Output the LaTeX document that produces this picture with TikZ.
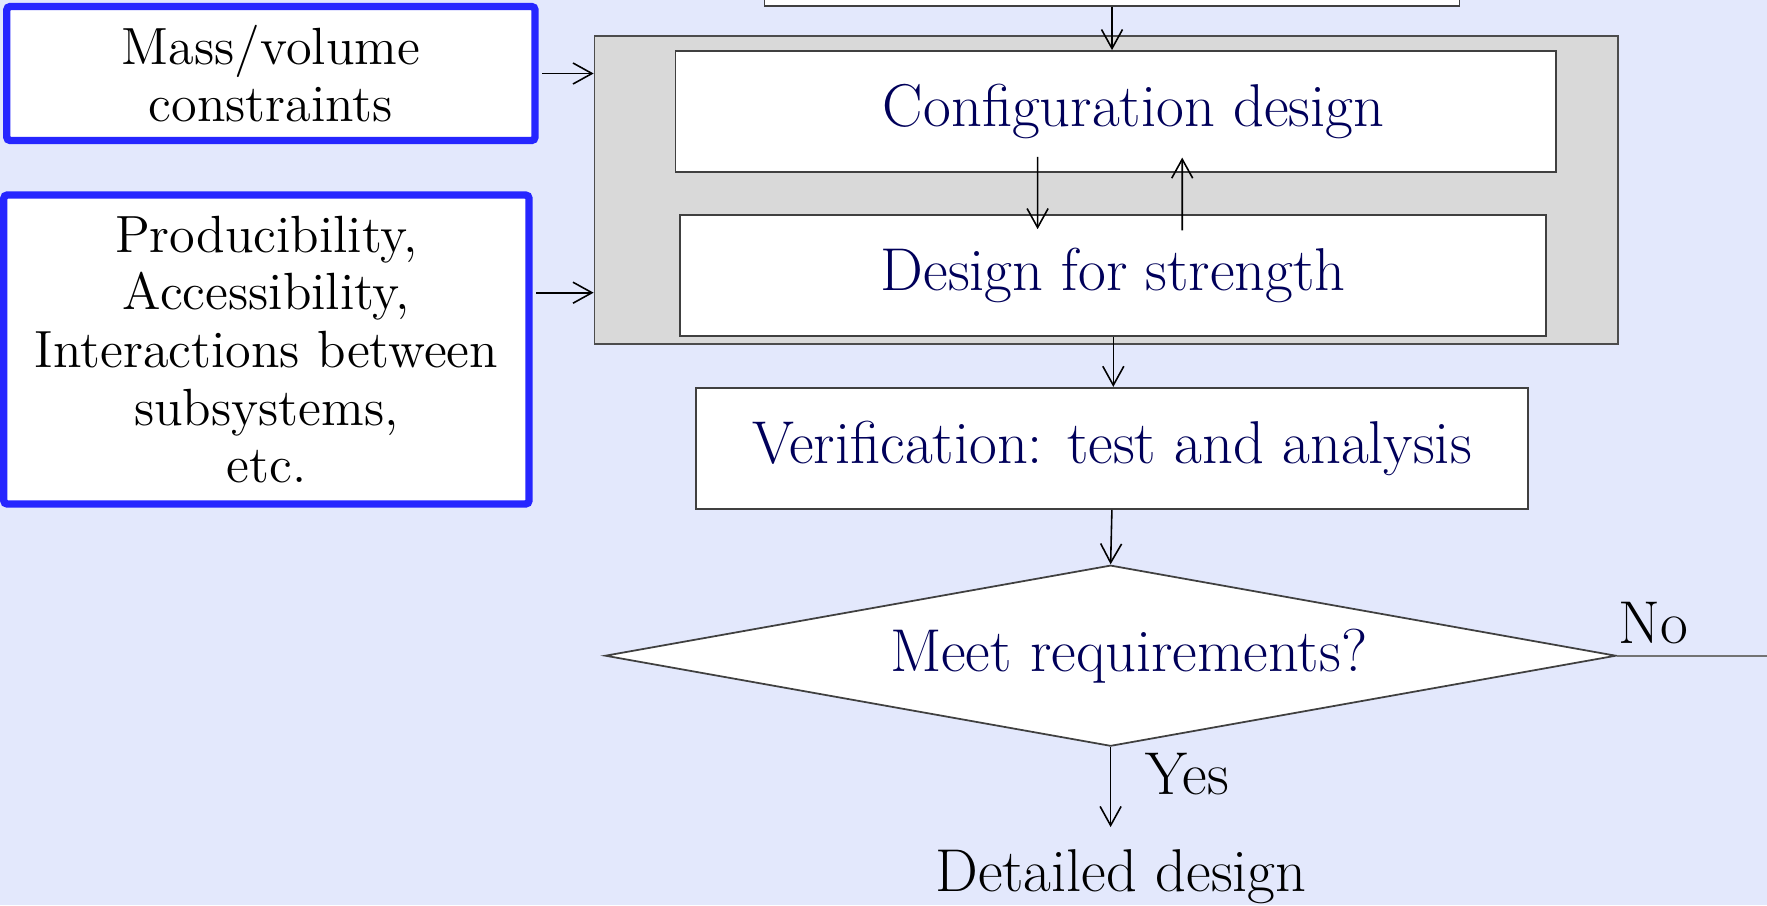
\documentclass[tikz,border=0pt]{standalone}
\usepackage{fontspec}
\usepackage{tikz}
\usetikzlibrary{arrows.meta,positioning,calc,shapes.geometric}
\definecolor{slidebg}{RGB}{227,232,252}
\definecolor{navytext}{RGB}{0,0,90}
\definecolor{frameblue}{RGB}{38,38,255}
\definecolor{groupgray}{RGB}{217,217,217}

\begin{document}
\begin{tikzpicture}[
		box/.style={draw=black!75, line width=0.5pt, fill=white, inner sep=0pt, text=navytext, font=\fontsize{17.2}{20}\selectfont},
		inbox/.style={draw=frameblue, line width=2.1pt, rounded corners=1pt, fill=white, inner sep=0pt, align=center, font=\fontsize{14.9}{16.4}\selectfont},
		arr/.style={-{Straight Barb[length=1.9mm,width=2.1mm]}, line width=0.45pt},
		plain/.style={inner sep=0pt, font=\fontsize{17.2}{20}\selectfont}
	]
		\fill[slidebg] (0,0) rectangle (17.67,9.05);
		\useasboundingbox (0,0) rectangle (17.67,9.05);
		\clip (0,0) rectangle (17.67,9.05);
		\node[box, minimum width=6.95cm, minimum height=1.2cm] (prev) at (11.12,9.593) {};
		\node[draw=black!70, line width=0.5pt, fill=groupgray, minimum width=10.235cm, minimum height=3.086cm] (grp) at (11.0625,7.15) {};
		\node[box, minimum width=8.80cm, minimum height=1.21cm] (conf) at (11.156,7.935) {\hspace*{3.6mm}Configuration design};
		\node[box, minimum width=8.66cm, minimum height=1.207cm] (str) at (11.133,6.296) {Design for strength};
		\node[box, minimum width=8.317cm, minimum height=1.213cm] (verif) at (11.119,4.566) {Verification: test and analysis};
		\node[box, shape=diamond, aspect=5.59, minimum width=10.11cm, minimum height=1.81cm] (dia) at (11.106,2.493) {\hspace*{3.6mm}Meet requirements?};
		\node[inbox, minimum width=5.283cm, minimum height=1.34cm] (mass) at (2.709,8.315) {Mass/volume\\constraints};
		\node[inbox, minimum width=5.253cm, minimum height=3.09cm] (prod) at (2.664,5.555) {Producibility,\\Accessibility,\\Interactions between\\subsystems,\\etc.};
		\node[plain, anchor=base, inner ysep=2.2mm] (detail) at (11.209,0.133) {Detailed design};
		\node[plain, anchor=base west] (yes) at (11.45,1.11) {Yes};
		\node[plain, anchor=base west] (no) at (16.18,2.617) {No};
		\coordinate (prodout) at ([yshift=5.68mm]prod.east);
		\coordinate (noend) at (17.8,0);
		\draw[arr] (prev.south) -- (prev.south |- conf.north);
		\draw[arr] ([xshift=-7.8mm,yshift=1.6mm]conf.south) -- ([xshift=-7.57mm,yshift=-1.5mm]str.north);
		\draw[arr] ([xshift=6.89mm,yshift=-1.63mm]str.north) -- ([xshift=6.66mm,yshift=1.53mm]conf.south);
		\draw[arr] (str.south) -- (str.south |- verif.north);
		\draw[arr] (verif.south) -- (dia.north);
		\draw[arr] (dia.south) -- (dia.south |- detail.north);
		\draw[arr, shorten <=1pt] (mass.east) -- (mass.east -| grp.west);
		\draw[arr, shorten <=1pt] (prodout) -- (prodout -| grp.west);
		\draw[black!55, line width=0.6pt] (dia.east) -- (dia.east -| noend);
	\end{tikzpicture}
\end{document}
